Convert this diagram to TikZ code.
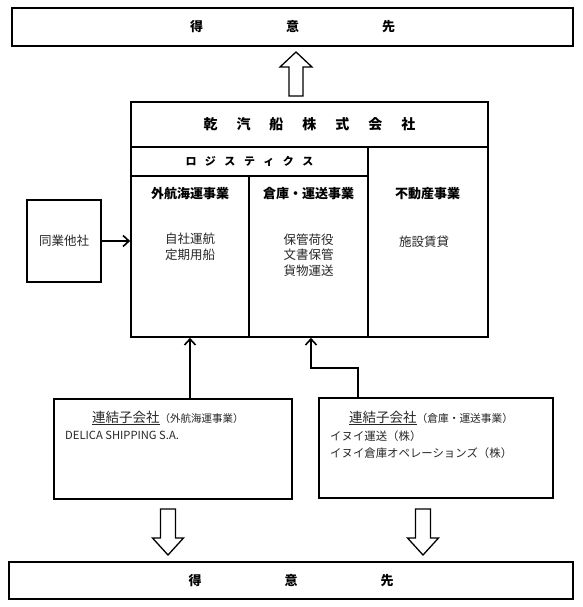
\documentclass[tikz,border=0pt]{standalone}
\usepackage{fontspec}
\setmainfont{Noto Sans CJK JP}
\usetikzlibrary{arrows.meta}
\tikzset{
  frame/.style={draw,line width=1.6pt,inner sep=0pt},
  hdr/.style={font=\fontsize{13}{15}\selectfont\bfseries,inner sep=0pt},
  body/.style={font=\fontsize{12.5}{15.5}\selectfont,text=black!85,inner sep=0pt,align=center},
  small/.style={font=\fontsize{11.4}{16}\selectfont,text=black!85,inner sep=0pt,anchor=west},
  conn/.style={line width=1.6pt,-{Straight Barb[length=6pt,width=11pt,line width=1.6pt]}},
  block/.style={draw,line width=1.3pt,line join=miter,fill=white}
}
\begin{document}
\begin{tikzpicture}[x=1pt,y=-1pt]
\useasboundingbox (0,0) rectangle (582,607);
% customers
\node[frame,minimum width=561pt,minimum height=38pt,font=\fontsize{13}{15}\selectfont\bfseries] (topcust) at (292.5,27) {得\hspace{83pt}意\hspace{83pt}先};
\node[frame,minimum width=564pt,minimum height=37pt,font=\fontsize{13}{15}\selectfont\bfseries] (botcust) at (291,580.5) {得\hspace{83pt}意\hspace{83pt}先};
% company
\node[frame,minimum width=357pt,minimum height=45pt,font=\fontsize{14}{16}\selectfont\bfseries] (title) at (309.5,124.5)
  {乾\hspace{19pt}汽\hspace{19pt}船\hspace{19pt}株\hspace{19pt}式\hspace{19pt}会\hspace{19pt}社};
\node[frame,minimum width=237pt,minimum height=29pt,font=\fontsize{11}{13}\selectfont\bfseries] (logi) at (249.5,161.5)
  {ロ\hspace{8.5pt}ジ\hspace{8.5pt}ス\hspace{8.5pt}テ\hspace{8.5pt}ィ\hspace{8.5pt}ク\hspace{8.5pt}ス};
\node[frame,minimum width=118pt,minimum height=161pt] (kaigai) at (190,256.5) {};
\node[frame,minimum width=119pt,minimum height=161pt] (souko) at (308.5,256.5) {};
\node[frame,minimum width=120pt,minimum height=190pt] (fudosan) at (428,242) {};
\node[hdr] (kaigaihdr) at (190,194) {外航海運事業};
\node[hdr] (soukohdr) at (308.5,194) {倉庫・運送事業};
\node[hdr] (fudosanhdr) at (427.5,194) {不動産事業};
\node[body] (kaigaitxt) at (190,247) {自社運航\\定期用船};
\node[body] (soukotxt) at (308.5,255) {保管荷役\\文書保管\\貨物運送};
\node[body] (fudosantxt) at (424,242) {施設賃貸};
% other companies
\node[frame,body,minimum width=74pt,minimum height=82pt] (others) at (64,241) {同業他社};
% subsidiaries
\node[frame,minimum width=238pt,minimum height=100pt] (sub1) at (173,449) {};
\node[frame,minimum width=234pt,minimum height=100pt] (sub2) at (436,448) {};
\node[small] (sub1head) at (92,418) {{\fontsize{13.5}{16}\selectfont\underline{連結子会社}}{\fontsize{10.5}{12}\selectfont（外航海運事業）}};
\node[small,font=\fontsize{11.2}{14}\selectfont] (sub1a) at (65,435) {DELICA SHIPPING S.A.};
\node[small] (sub2head) at (349,418) {{\fontsize{13.5}{16}\selectfont\underline{連結子会社}}{\fontsize{10.7}{12}\selectfont（倉庫・運送事業）}};
\node[small] (sub2a) at (330,436) {イヌイ運送（株）};
\node[small] (sub2b) at (330,453) {イヌイ倉庫オペレーションズ（株）};
% connectors
\draw[conn] (others) -- (others -| kaigai.west);
\draw[conn] (kaigai.south |- sub1.north) -- (kaigai.south);
\coordinate (rstart) at (358,0 |- sub2.north);
\coordinate (rbend) at (311,368);
\draw[conn] (rstart) |- (rbend) -- (rbend |- souko.south);
% block arrows
\draw[block] (289,96) -- (289,67) -- (280,67) -- (296,52) -- (312,67) -- (303,67) -- (303,96) -- cycle;
\foreach \cx in {168,423}
  \draw[block] (\cx-7.5,509) -- (\cx-7.5,538) -- (\cx-15.5,538) -- (\cx,555) -- (\cx+15.5,538) -- (\cx+7.5,538) -- (\cx+7.5,509) -- cycle;
\end{tikzpicture}
\end{document}
